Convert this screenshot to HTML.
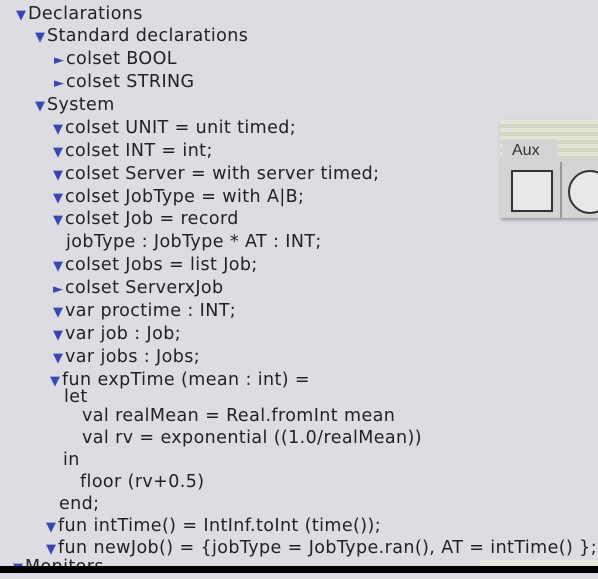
<!DOCTYPE html>
<html><head><style>
body{margin:0;width:598px;height:573px;background:#dcdce2;overflow:hidden;position:relative;font-family:"DejaVu Sans","Liberation Sans",sans-serif;font-size:17.5px;color:#222;}
.l{position:absolute;white-space:pre;line-height:20px;letter-spacing:0.4px;margin-top:1px}
.t{color:#3848b0;font-size:13px;display:inline-block;width:12px;}
</style></head><body>
<div class="l" style="left:16px;top:3px"><span class="t">▼</span>Declarations</div>
<div class="l" style="left:35px;top:25px"><span class="t">▼</span>Standard declarations</div>
<div class="l" style="left:54px;top:48px"><span class="t">►</span>colset BOOL</div>
<div class="l" style="left:54px;top:71px"><span class="t">►</span>colset STRING</div>
<div class="l" style="left:35px;top:94px"><span class="t">▼</span>System</div>
<div class="l" style="left:53px;top:117px"><span class="t">▼</span>colset UNIT = unit timed;</div>
<div class="l" style="left:53px;top:140px"><span class="t">▼</span>colset INT = int;</div>
<div class="l" style="left:53px;top:163px"><span class="t">▼</span>colset Server = with server timed;</div>
<div class="l" style="left:53px;top:186px"><span class="t">▼</span>colset JobType = with A|B;</div>
<div class="l" style="left:53px;top:208px"><span class="t">▼</span>colset Job = record</div>
<div class="l" style="left:66px;top:231px">jobType : JobType * AT : INT;</div>
<div class="l" style="left:53px;top:254px"><span class="t">▼</span>colset Jobs = list Job;</div>
<div class="l" style="left:53px;top:277px"><span class="t">►</span>colset ServerxJob</div>
<div class="l" style="left:53px;top:300px"><span class="t">▼</span>var proctime : INT;</div>
<div class="l" style="left:53px;top:323px"><span class="t">▼</span>var job : Job;</div>
<div class="l" style="left:53px;top:346px"><span class="t">▼</span>var jobs : Jobs;</div>
<div class="l" style="left:50px;top:369px"><span class="t">▼</span>fun expTime (mean : int) =</div>
<div class="l" style="left:64px;top:386px">let</div>
<div class="l" style="left:82px;top:405px">val realMean = Real.fromInt mean</div>
<div class="l" style="left:82px;top:427px">val rv = exponential ((1.0/realMean))</div>
<div class="l" style="left:63px;top:449px">in</div>
<div class="l" style="left:80px;top:471px">floor (rv+0.5)</div>
<div class="l" style="left:59px;top:493px">end;</div>
<div class="l" style="left:46px;top:515px"><span class="t">▼</span>fun intTime() = IntInf.toInt (time());</div>
<div class="l" style="left:46px;top:537px"><span class="t">▼</span>fun newJob() = {jobType = JobType.ran(), AT = intTime() };</div>
<div class="l" style="left:13px;top:556px"><span class="t">▼</span>Monitors</div>
<div style="position:absolute;left:480px;top:560px;width:118px;height:6px;background:#e8e8dc"></div>
<div style="position:absolute;left:0;top:566px;width:598px;height:7px;background:#000"></div>
<div style="position:absolute;left:500px;top:120px;width:98px;height:98px;background:repeating-linear-gradient(#e6e6d6 0 4px,#d6d6c6 4px 8px);box-shadow:1px 2px 3px #999"></div>
<div style="position:absolute;left:500px;top:158px;width:98px;height:60px;background:#d4d4d4"></div>
<div style="position:absolute;left:502px;top:139px;width:56px;height:25px;background:#d4d4d4;border-radius:3px 3px 0 0"></div>
<div style="position:absolute;left:512px;top:142px;font-family:'Liberation Sans',sans-serif;font-size:16px;color:#333">Aux</div>
<div style="position:absolute;left:511px;top:170px;width:38px;height:38px;border:2px solid #333;background:#e8e8e8"></div>
<div style="position:absolute;left:560px;top:162px;width:2px;height:56px;background:#999"></div>
<div style="position:absolute;left:568px;top:170px;width:40px;height:40px;border:2px solid #333;border-radius:50%;background:#e8e8e8"></div>
</body></html>
